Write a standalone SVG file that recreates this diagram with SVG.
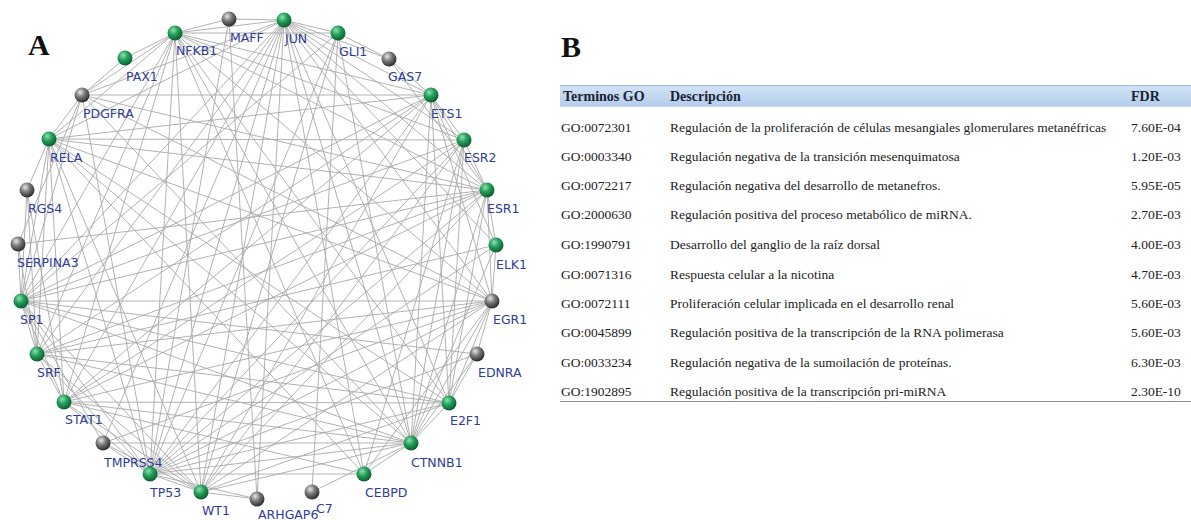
<svg xmlns="http://www.w3.org/2000/svg" width="1191" height="520" viewBox="0 0 1191 520">
<defs>
<radialGradient id="gG" cx="0.38" cy="0.32" r="0.7">
<stop offset="0" stop-color="#8fe0b0"/><stop offset="0.45" stop-color="#24a05a"/><stop offset="1" stop-color="#0c5a2e"/>
</radialGradient>
<radialGradient id="gK" cx="0.38" cy="0.32" r="0.7">
<stop offset="0" stop-color="#e8e8e8"/><stop offset="0.45" stop-color="#7a7a7a"/><stop offset="1" stop-color="#2a2a2a"/>
</radialGradient>
<linearGradient id="hdr" x1="0" y1="0" x2="0" y2="1">
<stop offset="0" stop-color="#d3e3f6"/><stop offset="1" stop-color="#b3cdec"/>
</linearGradient>
<style>
.e{stroke:#a9a9a9;stroke-width:0.9;fill:none}
.g{fill:url(#gG)}
.k{fill:url(#gK)}
.lb{font-family:"DejaVu Sans",sans-serif;font-size:12.5px;fill:#2d3d98}
.big{font-family:"Liberation Serif",serif;font-weight:bold;font-size:30px;fill:#111}
.th{font-family:"Liberation Serif",serif;font-weight:bold;font-size:14px;fill:#1a2233}
.td{font-family:"Liberation Serif",serif;font-size:13.5px;fill:#222}
</style>
</defs>
<rect width="1191" height="520" fill="#fff"/>
<text class="big" x="28" y="55">A</text>
<text class="big" x="561" y="57">B</text>
<g id="connectors">
<!-- JUN -->
<line class="e" x1="284" y1="20" x2="229" y2="19"/>
<line class="e" x1="284" y1="20" x2="175" y2="33"/>
<line class="e" x1="284" y1="20" x2="338" y2="33"/>
<line class="e" x1="284" y1="20" x2="389" y2="59"/>
<line class="e" x1="284" y1="20" x2="431" y2="95"/>
<line class="e" x1="284" y1="20" x2="487" y2="190"/>
<line class="e" x1="284" y1="20" x2="464" y2="140"/>
<line class="e" x1="284" y1="20" x2="492" y2="301"/>
<line class="e" x1="284" y1="20" x2="496" y2="245"/>
<line class="e" x1="284" y1="20" x2="449" y2="403"/>
<line class="e" x1="284" y1="20" x2="411" y2="443"/>
<line class="e" x1="284" y1="20" x2="364" y2="474"/>
<line class="e" x1="284" y1="20" x2="150" y2="474"/>
<line class="e" x1="284" y1="20" x2="201" y2="492"/>
<line class="e" x1="284" y1="20" x2="64" y2="402"/>
<line class="e" x1="284" y1="20" x2="37" y2="354"/>
<line class="e" x1="284" y1="20" x2="21" y2="301"/>
<line class="e" x1="284" y1="20" x2="49" y2="139"/>
<line class="e" x1="284" y1="20" x2="82" y2="95"/>
<line class="e" x1="284" y1="20" x2="103" y2="443"/>
<line class="e" x1="284" y1="20" x2="257" y2="499"/>
<!-- NFKB1 -->
<line class="e" x1="175" y1="33" x2="229" y2="19"/>
<line class="e" x1="175" y1="33" x2="125" y2="58"/>
<line class="e" x1="175" y1="33" x2="82" y2="95"/>
<line class="e" x1="175" y1="33" x2="49" y2="139"/>
<line class="e" x1="175" y1="33" x2="21" y2="301"/>
<line class="e" x1="175" y1="33" x2="64" y2="402"/>
<line class="e" x1="175" y1="33" x2="150" y2="474"/>
<line class="e" x1="175" y1="33" x2="411" y2="443"/>
<line class="e" x1="175" y1="33" x2="487" y2="190"/>
<line class="e" x1="175" y1="33" x2="464" y2="140"/>
<line class="e" x1="175" y1="33" x2="492" y2="301"/>
<line class="e" x1="175" y1="33" x2="449" y2="403"/>
<line class="e" x1="175" y1="33" x2="431" y2="95"/>
<line class="e" x1="175" y1="33" x2="364" y2="474"/>
<line class="e" x1="175" y1="33" x2="201" y2="492"/>
<line class="e" x1="175" y1="33" x2="37" y2="354"/>
<line class="e" x1="175" y1="33" x2="338" y2="33"/>
<!-- TP53 -->
<line class="e" x1="150" y1="474" x2="103" y2="443"/>
<line class="e" x1="150" y1="474" x2="201" y2="492"/>
<line class="e" x1="150" y1="474" x2="64" y2="402"/>
<line class="e" x1="150" y1="474" x2="37" y2="354"/>
<line class="e" x1="150" y1="474" x2="21" y2="301"/>
<line class="e" x1="150" y1="474" x2="49" y2="139"/>
<line class="e" x1="150" y1="474" x2="82" y2="95"/>
<line class="e" x1="150" y1="474" x2="229" y2="19"/>
<line class="e" x1="150" y1="474" x2="338" y2="33"/>
<line class="e" x1="150" y1="474" x2="431" y2="95"/>
<line class="e" x1="150" y1="474" x2="464" y2="140"/>
<line class="e" x1="150" y1="474" x2="487" y2="190"/>
<line class="e" x1="150" y1="474" x2="496" y2="245"/>
<line class="e" x1="150" y1="474" x2="492" y2="301"/>
<line class="e" x1="150" y1="474" x2="449" y2="403"/>
<line class="e" x1="150" y1="474" x2="411" y2="443"/>
<line class="e" x1="150" y1="474" x2="364" y2="474"/>
<line class="e" x1="150" y1="474" x2="477" y2="354"/>
<line class="e" x1="150" y1="474" x2="257" y2="499"/>
<!-- CTNNB1 -->
<line class="e" x1="411" y1="443" x2="364" y2="474"/>
<line class="e" x1="411" y1="443" x2="449" y2="403" stroke="#d9a3a8"/>
<line class="e" x1="411" y1="443" x2="477" y2="354" stroke="#d9a3a8"/>
<line class="e" x1="411" y1="443" x2="492" y2="301"/>
<line class="e" x1="411" y1="443" x2="496" y2="245"/>
<line class="e" x1="411" y1="443" x2="487" y2="190"/>
<line class="e" x1="411" y1="443" x2="464" y2="140"/>
<line class="e" x1="411" y1="443" x2="431" y2="95"/>
<line class="e" x1="411" y1="443" x2="338" y2="33"/>
<line class="e" x1="411" y1="443" x2="64" y2="402"/>
<line class="e" x1="411" y1="443" x2="37" y2="354"/>
<line class="e" x1="411" y1="443" x2="21" y2="301"/>
<line class="e" x1="411" y1="443" x2="49" y2="139"/>
<line class="e" x1="411" y1="443" x2="82" y2="95"/>
<line class="e" x1="411" y1="443" x2="201" y2="492"/>
<line class="e" x1="411" y1="443" x2="103" y2="443"/>
<line class="e" x1="411" y1="443" x2="312" y2="492"/>
<!-- SP1 -->
<line class="e" x1="21" y1="301" x2="492" y2="301" stroke-width="1.6"/>
<line class="e" x1="21" y1="301" x2="37" y2="354"/>
<line class="e" x1="21" y1="301" x2="18" y2="244"/>
<line class="e" x1="21" y1="301" x2="27" y2="190"/>
<line class="e" x1="21" y1="301" x2="49" y2="139"/>
<line class="e" x1="21" y1="301" x2="64" y2="402"/>
<line class="e" x1="21" y1="301" x2="103" y2="443"/>
<line class="e" x1="21" y1="301" x2="487" y2="190"/>
<line class="e" x1="21" y1="301" x2="464" y2="140"/>
<line class="e" x1="21" y1="301" x2="431" y2="95"/>
<line class="e" x1="21" y1="301" x2="449" y2="403"/>
<line class="e" x1="21" y1="301" x2="338" y2="33"/>
<line class="e" x1="21" y1="301" x2="201" y2="492"/>
<line class="e" x1="21" y1="301" x2="82" y2="95"/>
<line class="e" x1="21" y1="301" x2="477" y2="354"/>
<!-- EGR1 -->
<line class="e" x1="492" y1="301" x2="487" y2="190"/>
<line class="e" x1="492" y1="301" x2="496" y2="245"/>
<line class="e" x1="492" y1="301" x2="37" y2="354"/>
<line class="e" x1="492" y1="301" x2="64" y2="402"/>
<line class="e" x1="492" y1="301" x2="431" y2="95"/>
<line class="e" x1="492" y1="301" x2="201" y2="492"/>
<line class="e" x1="492" y1="301" x2="49" y2="139"/>
<line class="e" x1="492" y1="301" x2="82" y2="95"/>
<line class="e" x1="492" y1="301" x2="477" y2="354"/>
<line class="e" x1="492" y1="301" x2="449" y2="403"/>
<line class="e" x1="492" y1="301" x2="103" y2="443"/>
<line class="e" x1="492" y1="301" x2="364" y2="474"/>
<!-- ESR1 -->
<line class="e" x1="487" y1="190" x2="464" y2="140"/>
<line class="e" x1="487" y1="190" x2="496" y2="245"/>
<line class="e" x1="487" y1="190" x2="431" y2="95"/>
<line class="e" x1="487" y1="190" x2="389" y2="59"/>
<line class="e" x1="487" y1="190" x2="64" y2="402"/>
<line class="e" x1="487" y1="190" x2="49" y2="139"/>
<line class="e" x1="487" y1="190" x2="449" y2="403"/>
<line class="e" x1="487" y1="190" x2="37" y2="354"/>
<line class="e" x1="487" y1="190" x2="18" y2="244"/>
<line class="e" x1="487" y1="190" x2="82" y2="95"/>
<line class="e" x1="487" y1="190" x2="201" y2="492"/>
<!-- STAT1 -->
<line class="e" x1="64" y1="402" x2="37" y2="354"/>
<line class="e" x1="64" y1="402" x2="49" y2="139"/>
<line class="e" x1="64" y1="402" x2="431" y2="95"/>
<line class="e" x1="64" y1="402" x2="449" y2="403"/>
<line class="e" x1="64" y1="402" x2="364" y2="474"/>
<line class="e" x1="64" y1="402" x2="27" y2="190"/>
<line class="e" x1="64" y1="402" x2="464" y2="140"/>
<line class="e" x1="64" y1="402" x2="201" y2="492"/>
<!-- RELA -->
<line class="e" x1="49" y1="139" x2="82" y2="95"/>
<line class="e" x1="49" y1="139" x2="27" y2="190"/>
<line class="e" x1="49" y1="139" x2="37" y2="354"/>
<line class="e" x1="49" y1="139" x2="431" y2="95"/>
<line class="e" x1="49" y1="139" x2="449" y2="403"/>
<line class="e" x1="49" y1="139" x2="464" y2="140"/>
<line class="e" x1="49" y1="139" x2="364" y2="474"/>
<line class="e" x1="49" y1="139" x2="201" y2="492"/>
<!-- ETS1 -->
<line class="e" x1="431" y1="95" x2="389" y2="59"/>
<line class="e" x1="431" y1="95" x2="464" y2="140"/>
<line class="e" x1="431" y1="95" x2="37" y2="354"/>
<line class="e" x1="431" y1="95" x2="449" y2="403"/>
<line class="e" x1="431" y1="95" x2="201" y2="492"/>
<line class="e" x1="431" y1="95" x2="82" y2="95"/>
<line class="e" x1="431" y1="95" x2="496" y2="245"/>
<!-- misc -->
<line class="e" x1="449" y1="403" x2="477" y2="354"/>
<line class="e" x1="449" y1="403" x2="37" y2="354"/>
<line class="e" x1="449" y1="403" x2="201" y2="492"/>
<line class="e" x1="449" y1="403" x2="464" y2="140"/>
<line class="e" x1="37" y1="354" x2="496" y2="245"/>
<line class="e" x1="37" y1="354" x2="27" y2="190"/>
<line class="e" x1="37" y1="354" x2="201" y2="492"/>
<line class="e" x1="37" y1="354" x2="18" y2="244"/>
<line class="e" x1="201" y1="492" x2="338" y2="33"/>
<line class="e" x1="201" y1="492" x2="464" y2="140"/>
<line class="e" x1="201" y1="492" x2="103" y2="443"/>
<line class="e" x1="201" y1="492" x2="257" y2="499"/>
<line class="e" x1="338" y1="33" x2="389" y2="59"/>
<line class="e" x1="125" y1="58" x2="82" y2="95"/>
<line class="e" x1="82" y1="95" x2="18" y2="244"/>
<line class="e" x1="364" y1="474" x2="464" y2="140"/>
<line class="e" x1="257" y1="499" x2="229" y2="19"/>
<line class="e" x1="312" y1="492" x2="338" y2="33"/>
</g>
<g id="n-JUN"><circle class="g" cx="284" cy="20" r="7.5"/><text class="lb" x="285" y="43">JUN</text></g>
<g id="n-MAFF"><circle class="k" cx="229" cy="19" r="7.5"/><text class="lb" x="230" y="42">MAFF</text></g>
<g id="n-NFKB1"><circle class="g" cx="175" cy="33" r="7.5"/><text class="lb" x="176" y="55">NFKB1</text></g>
<g id="n-PAX1"><circle class="g" cx="125" cy="58" r="7.5"/><text class="lb" x="126" y="81">PAX1</text></g>
<g id="n-PDGFRA"><circle class="k" cx="82" cy="95" r="7.5"/><text class="lb" x="83" y="118">PDGFRA</text></g>
<g id="n-RELA"><circle class="g" cx="49" cy="139" r="7.5"/><text class="lb" x="50" y="162">RELA</text></g>
<g id="n-RGS4"><circle class="k" cx="27" cy="190" r="7.5"/><text class="lb" x="28" y="213">RGS4</text></g>
<g id="n-SERPINA3"><circle class="k" cx="18" cy="244" r="7.5"/><text class="lb" x="17" y="267">SERPINA3</text></g>
<g id="n-SP1"><circle class="g" cx="21" cy="301" r="7.5"/><text class="lb" x="20" y="324">SP1</text></g>
<g id="n-SRF"><circle class="g" cx="37" cy="354" r="7.5"/><text class="lb" x="37" y="377">SRF</text></g>
<g id="n-STAT1"><circle class="g" cx="64" cy="402" r="7.5"/><text class="lb" x="65" y="424">STAT1</text></g>
<g id="n-TMPRSS4"><circle class="k" cx="103" cy="443" r="7.5"/><text class="lb" x="104" y="467">TMPRSS4</text></g>
<g id="n-TP53"><circle class="g" cx="150" cy="474" r="7.5"/><text class="lb" x="150" y="497">TP53</text></g>
<g id="n-WT1"><circle class="g" cx="201" cy="492" r="7.5"/><text class="lb" x="202" y="515">WT1</text></g>
<g id="n-ARHGAP6"><circle class="k" cx="257" cy="499" r="7.5"/><text class="lb" x="258" y="519">ARHGAP6</text></g>
<g id="n-C7"><circle class="k" cx="312" cy="492" r="7.5"/><text class="lb" x="316" y="513">C7</text></g>
<g id="n-CEBPD"><circle class="g" cx="364" cy="474" r="7.5"/><text class="lb" x="365" y="497">CEBPD</text></g>
<g id="n-CTNNB1"><circle class="g" cx="411" cy="443" r="7.5"/><text class="lb" x="411" y="467">CTNNB1</text></g>
<g id="n-E2F1"><circle class="g" cx="449" cy="403" r="7.5"/><text class="lb" x="450" y="425">E2F1</text></g>
<g id="n-EDNRA"><circle class="k" cx="477" cy="354" r="7.5"/><text class="lb" x="478" y="377">EDNRA</text></g>
<g id="n-EGR1"><circle class="k" cx="492" cy="301" r="7.5"/><text class="lb" x="493" y="324">EGR1</text></g>
<g id="n-ELK1"><circle class="g" cx="496" cy="245" r="7.5"/><text class="lb" x="496" y="269">ELK1</text></g>
<g id="n-ESR1"><circle class="g" cx="487" cy="190" r="7.5"/><text class="lb" x="487" y="213">ESR1</text></g>
<g id="n-ESR2"><circle class="g" cx="464" cy="140" r="7.5"/><text class="lb" x="464" y="162">ESR2</text></g>
<g id="n-ETS1"><circle class="g" cx="431" cy="95" r="7.5"/><text class="lb" x="431" y="118">ETS1</text></g>
<g id="n-GAS7"><circle class="k" cx="389" cy="59" r="7.5"/><text class="lb" x="388" y="81">GAS7</text></g>
<g id="n-GLI1"><circle class="g" cx="338" cy="33" r="7.5"/><text class="lb" x="339" y="56">GLI1</text></g>
<g id="table">
<rect x="560" y="85" width="631" height="22" fill="url(#hdr)"/>
<line x1="560" y1="85.5" x2="1191" y2="85.5" stroke="#9db6d8" stroke-width="1"/>
<line x1="560" y1="106.5" x2="1191" y2="106.5" stroke="#c6d6ea" stroke-width="1"/>
<text class="th" x="563" y="101">Terminos GO</text>
<text class="th" x="670" y="101">Descripción</text>
<text class="th" x="1131" y="101">FDR</text>
<text class="td" x="561" y="132">GO:0072301</text><text class="td" x="670" y="132">Regulación de la proliferación de células mesangiales glomerulares metanéfricas</text><text class="td" x="1131" y="132">7.60E-04</text>
<text class="td" x="561" y="161">GO:0003340</text><text class="td" x="670" y="161">Regulación negativa de la transición mesenquimatosa</text><text class="td" x="1131" y="161">1.20E-03</text>
<text class="td" x="561" y="190">GO:0072217</text><text class="td" x="670" y="190">Regulación negativa del desarrollo de metanefros.</text><text class="td" x="1131" y="190">5.95E-05</text>
<text class="td" x="561" y="219">GO:2000630</text><text class="td" x="670" y="219">Regulación positiva del proceso metabólico de miRNA.</text><text class="td" x="1131" y="219">2.70E-03</text>
<text class="td" x="561" y="249">GO:1990791</text><text class="td" x="670" y="249">Desarrollo del ganglio de la raíz dorsal</text><text class="td" x="1131" y="249">4.00E-03</text>
<text class="td" x="561" y="279">GO:0071316</text><text class="td" x="670" y="279">Respuesta celular a la nicotina</text><text class="td" x="1131" y="279">4.70E-03</text>
<text class="td" x="561" y="308">GO:0072111</text><text class="td" x="670" y="308">Proliferación celular implicada en el desarrollo renal</text><text class="td" x="1131" y="308">5.60E-03</text>
<text class="td" x="561" y="337">GO:0045899</text><text class="td" x="670" y="337">Regulación positiva de la transcripción de la RNA polimerasa</text><text class="td" x="1131" y="337">5.60E-03</text>
<text class="td" x="561" y="367">GO:0033234</text><text class="td" x="670" y="367">Regulación negativa de la sumoilación de proteínas.</text><text class="td" x="1131" y="367">6.30E-03</text>
<text class="td" x="561" y="396">GO:1902895</text><text class="td" x="670" y="396">Regulación positiva de la transcripción pri-miRNA</text><text class="td" x="1131" y="396">2.30E-10</text>
<line x1="560" y1="401.5" x2="1191" y2="401.5" stroke="#8a8a8a" stroke-width="1"/>
</g>
</svg>
